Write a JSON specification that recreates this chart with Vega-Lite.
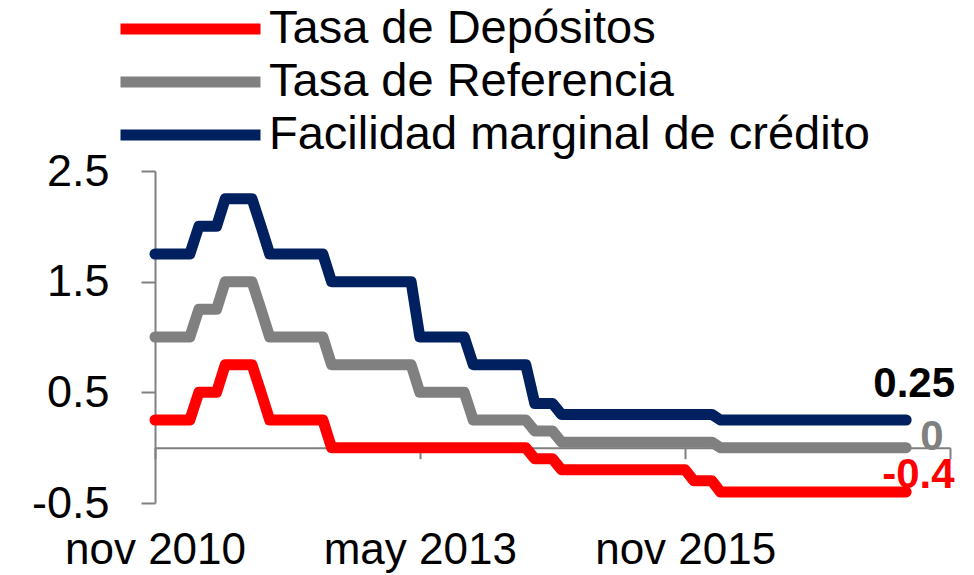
{
  "$schema": "https://vega.github.io/schema/vega-lite/v6.json",
  "width": 795,
  "height": 332,
  "autosize": "none",
  "padding": {"left": 155, "top": 171, "right": 24, "bottom": 72},
  "background": "white",
  "config": {"view": {"stroke": null}, "font": "Liberation Sans"},
  "data": {"values": [
    {"fecha": "2010-11-01", "deposito": 0.25, "referencia": 1, "facilidad": 1.75},
    {"fecha": "2010-12-01", "deposito": 0.25, "referencia": 1, "facilidad": 1.75},
    {"fecha": "2011-01-01", "deposito": 0.25, "referencia": 1, "facilidad": 1.75},
    {"fecha": "2011-02-01", "deposito": 0.25, "referencia": 1, "facilidad": 1.75},
    {"fecha": "2011-03-01", "deposito": 0.25, "referencia": 1, "facilidad": 1.75},
    {"fecha": "2011-04-01", "deposito": 0.5, "referencia": 1.25, "facilidad": 2},
    {"fecha": "2011-05-01", "deposito": 0.5, "referencia": 1.25, "facilidad": 2},
    {"fecha": "2011-06-01", "deposito": 0.5, "referencia": 1.25, "facilidad": 2},
    {"fecha": "2011-07-01", "deposito": 0.75, "referencia": 1.5, "facilidad": 2.25},
    {"fecha": "2011-08-01", "deposito": 0.75, "referencia": 1.5, "facilidad": 2.25},
    {"fecha": "2011-09-01", "deposito": 0.75, "referencia": 1.5, "facilidad": 2.25},
    {"fecha": "2011-10-01", "deposito": 0.75, "referencia": 1.5, "facilidad": 2.25},
    {"fecha": "2011-11-01", "deposito": 0.5, "referencia": 1.25, "facilidad": 2},
    {"fecha": "2011-12-01", "deposito": 0.25, "referencia": 1, "facilidad": 1.75},
    {"fecha": "2012-01-01", "deposito": 0.25, "referencia": 1, "facilidad": 1.75},
    {"fecha": "2012-02-01", "deposito": 0.25, "referencia": 1, "facilidad": 1.75},
    {"fecha": "2012-03-01", "deposito": 0.25, "referencia": 1, "facilidad": 1.75},
    {"fecha": "2012-04-01", "deposito": 0.25, "referencia": 1, "facilidad": 1.75},
    {"fecha": "2012-05-01", "deposito": 0.25, "referencia": 1, "facilidad": 1.75},
    {"fecha": "2012-06-01", "deposito": 0.25, "referencia": 1, "facilidad": 1.75},
    {"fecha": "2012-07-01", "deposito": 0, "referencia": 0.75, "facilidad": 1.5},
    {"fecha": "2012-08-01", "deposito": 0, "referencia": 0.75, "facilidad": 1.5},
    {"fecha": "2012-09-01", "deposito": 0, "referencia": 0.75, "facilidad": 1.5},
    {"fecha": "2012-10-01", "deposito": 0, "referencia": 0.75, "facilidad": 1.5},
    {"fecha": "2012-11-01", "deposito": 0, "referencia": 0.75, "facilidad": 1.5},
    {"fecha": "2012-12-01", "deposito": 0, "referencia": 0.75, "facilidad": 1.5},
    {"fecha": "2013-01-01", "deposito": 0, "referencia": 0.75, "facilidad": 1.5},
    {"fecha": "2013-02-01", "deposito": 0, "referencia": 0.75, "facilidad": 1.5},
    {"fecha": "2013-03-01", "deposito": 0, "referencia": 0.75, "facilidad": 1.5},
    {"fecha": "2013-04-01", "deposito": 0, "referencia": 0.75, "facilidad": 1.5},
    {"fecha": "2013-05-01", "deposito": 0, "referencia": 0.5, "facilidad": 1},
    {"fecha": "2013-06-01", "deposito": 0, "referencia": 0.5, "facilidad": 1},
    {"fecha": "2013-07-01", "deposito": 0, "referencia": 0.5, "facilidad": 1},
    {"fecha": "2013-08-01", "deposito": 0, "referencia": 0.5, "facilidad": 1},
    {"fecha": "2013-09-01", "deposito": 0, "referencia": 0.5, "facilidad": 1},
    {"fecha": "2013-10-01", "deposito": 0, "referencia": 0.5, "facilidad": 1},
    {"fecha": "2013-11-01", "deposito": 0, "referencia": 0.25, "facilidad": 0.75},
    {"fecha": "2013-12-01", "deposito": 0, "referencia": 0.25, "facilidad": 0.75},
    {"fecha": "2014-01-01", "deposito": 0, "referencia": 0.25, "facilidad": 0.75},
    {"fecha": "2014-02-01", "deposito": 0, "referencia": 0.25, "facilidad": 0.75},
    {"fecha": "2014-03-01", "deposito": 0, "referencia": 0.25, "facilidad": 0.75},
    {"fecha": "2014-04-01", "deposito": 0, "referencia": 0.25, "facilidad": 0.75},
    {"fecha": "2014-05-01", "deposito": 0, "referencia": 0.25, "facilidad": 0.75},
    {"fecha": "2014-06-01", "deposito": -0.1, "referencia": 0.15, "facilidad": 0.4},
    {"fecha": "2014-07-01", "deposito": -0.1, "referencia": 0.15, "facilidad": 0.4},
    {"fecha": "2014-08-01", "deposito": -0.1, "referencia": 0.15, "facilidad": 0.4},
    {"fecha": "2014-09-01", "deposito": -0.2, "referencia": 0.05, "facilidad": 0.3},
    {"fecha": "2014-10-01", "deposito": -0.2, "referencia": 0.05, "facilidad": 0.3},
    {"fecha": "2014-11-01", "deposito": -0.2, "referencia": 0.05, "facilidad": 0.3},
    {"fecha": "2014-12-01", "deposito": -0.2, "referencia": 0.05, "facilidad": 0.3},
    {"fecha": "2015-01-01", "deposito": -0.2, "referencia": 0.05, "facilidad": 0.3},
    {"fecha": "2015-02-01", "deposito": -0.2, "referencia": 0.05, "facilidad": 0.3},
    {"fecha": "2015-03-01", "deposito": -0.2, "referencia": 0.05, "facilidad": 0.3},
    {"fecha": "2015-04-01", "deposito": -0.2, "referencia": 0.05, "facilidad": 0.3},
    {"fecha": "2015-05-01", "deposito": -0.2, "referencia": 0.05, "facilidad": 0.3},
    {"fecha": "2015-06-01", "deposito": -0.2, "referencia": 0.05, "facilidad": 0.3},
    {"fecha": "2015-07-01", "deposito": -0.2, "referencia": 0.05, "facilidad": 0.3},
    {"fecha": "2015-08-01", "deposito": -0.2, "referencia": 0.05, "facilidad": 0.3},
    {"fecha": "2015-09-01", "deposito": -0.2, "referencia": 0.05, "facilidad": 0.3},
    {"fecha": "2015-10-01", "deposito": -0.2, "referencia": 0.05, "facilidad": 0.3},
    {"fecha": "2015-11-01", "deposito": -0.2, "referencia": 0.05, "facilidad": 0.3},
    {"fecha": "2015-12-01", "deposito": -0.3, "referencia": 0.05, "facilidad": 0.3},
    {"fecha": "2016-01-01", "deposito": -0.3, "referencia": 0.05, "facilidad": 0.3},
    {"fecha": "2016-02-01", "deposito": -0.3, "referencia": 0.05, "facilidad": 0.3},
    {"fecha": "2016-03-01", "deposito": -0.4, "referencia": 0, "facilidad": 0.25},
    {"fecha": "2016-04-01", "deposito": -0.4, "referencia": 0, "facilidad": 0.25},
    {"fecha": "2016-05-01", "deposito": -0.4, "referencia": 0, "facilidad": 0.25},
    {"fecha": "2016-06-01", "deposito": -0.4, "referencia": 0, "facilidad": 0.25},
    {"fecha": "2016-07-01", "deposito": -0.4, "referencia": 0, "facilidad": 0.25},
    {"fecha": "2016-08-01", "deposito": -0.4, "referencia": 0, "facilidad": 0.25},
    {"fecha": "2016-09-01", "deposito": -0.4, "referencia": 0, "facilidad": 0.25},
    {"fecha": "2016-10-01", "deposito": -0.4, "referencia": 0, "facilidad": 0.25},
    {"fecha": "2016-11-01", "deposito": -0.4, "referencia": 0, "facilidad": 0.25},
    {"fecha": "2016-12-01", "deposito": -0.4, "referencia": 0, "facilidad": 0.25},
    {"fecha": "2017-01-01", "deposito": -0.4, "referencia": 0, "facilidad": 0.25},
    {"fecha": "2017-02-01", "deposito": -0.4, "referencia": 0, "facilidad": 0.25},
    {"fecha": "2017-03-01", "deposito": -0.4, "referencia": 0, "facilidad": 0.25},
    {"fecha": "2017-04-01", "deposito": -0.4, "referencia": 0, "facilidad": 0.25},
    {"fecha": "2017-05-01", "deposito": -0.4, "referencia": 0, "facilidad": 0.25},
    {"fecha": "2017-06-01", "deposito": -0.4, "referencia": 0, "facilidad": 0.25},
    {"fecha": "2017-07-01", "deposito": -0.4, "referencia": 0, "facilidad": 0.25},
    {"fecha": "2017-08-01", "deposito": -0.4, "referencia": 0, "facilidad": 0.25},
    {"fecha": "2017-09-01", "deposito": -0.4, "referencia": 0, "facilidad": 0.25},
    {"fecha": "2017-10-01", "deposito": -0.4, "referencia": 0, "facilidad": 0.25},
    {"fecha": "2017-11-01", "deposito": -0.4, "referencia": 0, "facilidad": 0.25},
    {"fecha": "2017-12-01", "deposito": -0.4, "referencia": 0, "facilidad": 0.25}
  ]},
  "transform": [{"fold": ["deposito", "referencia", "facilidad"], "as": ["serie", "valor"]}],
  "encoding": {
    "x": {
      "field": "fecha", "type": "temporal",
      "scale": {"type": "utc", "domain": [{"year": 2010, "month": 11, "date": 1, "utc": true}, {"year": 2018, "month": 5, "date": 1, "utc": true}]},
      "axis": {
        "title": null, "grid": false,
        "values": [
          {"year": 2010, "month": 11, "date": 1, "utc": true},
          {"year": 2013, "month": 5, "date": 1, "utc": true},
          {"year": 2015, "month": 11, "date": 1, "utc": true},
          {"year": 2018, "month": 5, "date": 1, "utc": true}
        ],
        "labelExpr": "utcyear(datum.value) == 2018 ? '' : (utcmonth(datum.value) == 4 ? 'may ' : 'nov ') + utcyear(datum.value)",
        "offset": -55.3,
        "tickSize": 11, "tickWidth": 2, "tickColor": "#808080",
        "domainColor": "#808080", "domainWidth": 2,
        "labelPadding": 70, "labelFontSize": 44, "labelColor": "#000000",
        "labelLimit": 500,
        "labelOverlap": false, "labelFlush": false, "labelBound": false
      }
    },
    "y": {
      "field": "valor", "type": "quantitative",
      "scale": {"domain": [-0.5, 2.5], "nice": false, "zero": false},
      "axis": {
        "title": null, "grid": false,
        "values": [-0.5, 0.5, 1.5, 2.5],
        "labelExpr": "'' + datum.value",
        "tickSize": 14, "tickWidth": 2, "tickColor": "#808080",
        "domainColor": "#808080", "domainWidth": 2,
        "labelPadding": 32, "labelFontSize": 45, "labelColor": "#000000"
      }
    }
  },
  "layer": [
    {
      "mark": {"type": "line", "strokeWidth": 11, "strokeCap": "round", "strokeJoin": "round"},
      "encoding": {
        "color": {
          "field": "serie", "type": "nominal",
          "scale": {"domain": ["deposito", "referencia", "facilidad"], "range": ["#FF0000", "#808080", "#002060"]},
          "legend": {
            "title": null, "orient": "none", "legendX": -40, "legendY": -165,
            "padding": 0, "symbolType": "stroke", "symbolSize": 19600, "symbolStrokeWidth": 11,
            "clipHeight": 46,
            "labelFontSize": 47, "labelColor": "#000000", "labelOffset": 3, "rowPadding": 6,
            "labelLimit": 800,
            "labelExpr": "datum.value == 'deposito' ? 'Tasa de Depósitos' : datum.value == 'referencia' ? 'Tasa de Referencia' : 'Facilidad marginal de crédito'"
          }
        }
      }
    },
    {
      "transform": [{"filter": "datum.serie == 'facilidad' && utcyear(datum.fecha) == 2017 && utcmonth(datum.fecha) == 11"}],
      "mark": {"type": "text", "fontWeight": "bold", "fontSize": 42, "color": "#000000", "align": "center", "baseline": "middle", "dx": 8, "dy": -36},
      "encoding": {"text": {"field": "valor", "type": "nominal"}}
    },
    {
      "transform": [{"filter": "datum.serie == 'referencia' && utcyear(datum.fecha) == 2017 && utcmonth(datum.fecha) == 11"}],
      "mark": {"type": "text", "fontWeight": "bold", "fontSize": 42, "color": "#808080", "align": "left", "baseline": "middle", "dx": 14, "dy": -11},
      "encoding": {"text": {"field": "valor", "type": "nominal"}}
    },
    {
      "transform": [{"filter": "datum.serie == 'deposito' && utcyear(datum.fecha) == 2017 && utcmonth(datum.fecha) == 11"}],
      "mark": {"type": "text", "fontWeight": "bold", "fontSize": 42, "color": "#FF0000", "align": "left", "baseline": "middle", "dx": -24, "dy": -17},
      "encoding": {"text": {"field": "valor", "type": "nominal"}}
    }
  ]
}
